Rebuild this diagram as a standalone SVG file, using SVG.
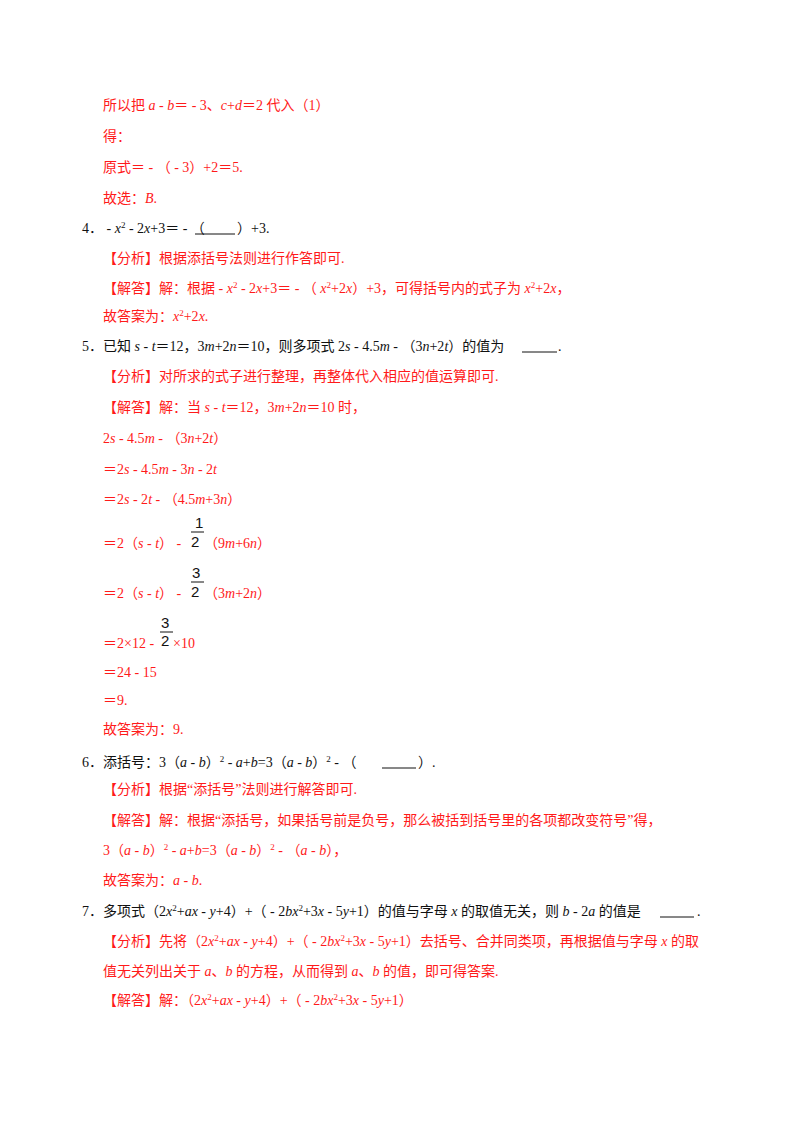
<svg xmlns="http://www.w3.org/2000/svg" width="800" height="1132" viewBox="0 0 800 1132">
<style>
text{font-family:"Liberation Serif","Noto Sans CJK SC",serif;font-size:14px}
.r{fill:#ff1a1a}.k{fill:#111}
.i{font-style:italic}
.s{font-size:9px;baseline-shift:super}
.f{font-family:"Liberation Sans","Noto Sans CJK SC",sans-serif;font-size:15px;fill:#111}
line{stroke:#111;stroke-width:1}
</style>
<rect width="800" height="1132" fill="#fff"/>
<text class="r" x="103" y="110">所以把 <tspan class="i">a</tspan> - <tspan class="i">b</tspan>＝ - 3、<tspan class="i">c</tspan>+<tspan class="i">d</tspan>＝2 代入（1）</text>
<text class="r" x="103" y="141">得：</text>
<text class="r" x="103" y="172">原式＝ - （ - 3）+2＝5.</text>
<text class="r" x="103" y="203">故选：<tspan class="i">B</tspan>.</text>
<text class="k" x="82" y="233">4． - <tspan class="i">x</tspan><tspan class="s">2</tspan> - 2<tspan class="i">x</tspan>+3＝ - （ </text>
<line x1="195" y1="234" x2="235" y2="234"/>
<text class="k" x="237" y="233">）+3.</text>
<text class="r" x="103" y="263">【分析】根据添括号法则进行作答即可.</text>
<text class="r" x="103" y="293">【解答】解：根据 - <tspan class="i">x</tspan><tspan class="s">2</tspan> - 2<tspan class="i">x</tspan>+3＝ - （ <tspan class="i">x</tspan><tspan class="s">2</tspan>+2<tspan class="i">x</tspan>）+3，可得括号内的式子为 <tspan class="i">x</tspan><tspan class="s">2</tspan>+2<tspan class="i">x</tspan>，</text>
<text class="r" x="103" y="321">故答案为：<tspan class="i">x</tspan><tspan class="s">2</tspan>+2<tspan class="i">x</tspan>.</text>
<text class="k" x="82" y="351">5．已知 <tspan class="i">s</tspan> - <tspan class="i">t</tspan>＝12，3<tspan class="i">m</tspan>+2<tspan class="i">n</tspan>＝10，则多项式 2<tspan class="i">s</tspan> - 4.5<tspan class="i">m</tspan> - （3<tspan class="i">n</tspan>+2<tspan class="i">t</tspan>）的值为 </text>
<line x1="522" y1="352" x2="557" y2="352"/>
<text class="k" x="558" y="351">.</text>
<text class="r" x="103" y="381">【分析】对所求的式子进行整理，再整体代入相应的值运算即可.</text>
<text class="r" x="103" y="412">【解答】解：当 <tspan class="i">s</tspan> - <tspan class="i">t</tspan>＝12，3<tspan class="i">m</tspan>+2<tspan class="i">n</tspan>＝10 时，</text>
<text class="r" x="103" y="443">2<tspan class="i">s</tspan> - 4.5<tspan class="i">m</tspan> - （3<tspan class="i">n</tspan>+2<tspan class="i">t</tspan>）</text>
<text class="r" x="103" y="474">＝2<tspan class="i">s</tspan> - 4.5<tspan class="i">m</tspan> - 3<tspan class="i">n</tspan> - 2<tspan class="i">t</tspan></text>
<text class="r" x="103" y="504">＝2<tspan class="i">s</tspan> - 2<tspan class="i">t</tspan> - （4.5<tspan class="i">m</tspan>+3<tspan class="i">n</tspan>）</text>
<text class="r" x="103" y="548">＝2（<tspan class="i">s</tspan> - <tspan class="i">t</tspan>） - </text>
<text class="f" x="195" y="528">1</text><line x1="191" y1="532" x2="204" y2="532"/><text class="f" x="191" y="547">2</text>
<text class="r" x="204" y="548">（9<tspan class="i">m</tspan>+6<tspan class="i">n</tspan>）</text>
<text class="r" x="103" y="598">＝2（<tspan class="i">s</tspan> - <tspan class="i">t</tspan>） - </text>
<text class="f" x="192" y="578">3</text><line x1="191" y1="582" x2="204" y2="582"/><text class="f" x="191" y="597">2</text>
<text class="r" x="204" y="598">（3<tspan class="i">m</tspan>+2<tspan class="i">n</tspan>）</text>
<text class="r" x="103" y="648">＝2×12 - </text>
<text class="f" x="161" y="628">3</text><line x1="160" y1="632" x2="173" y2="632"/><text class="f" x="161" y="646">2</text>
<text class="r" x="173" y="648">×10</text>
<text class="r" x="103" y="677">＝24 - 15</text>
<text class="r" x="103" y="705">＝9.</text>
<text class="r" x="103" y="734">故答案为：9.</text>
<text class="k" x="82" y="767">6．添括号：3（<tspan class="i">a</tspan> - <tspan class="i">b</tspan>）<tspan class="s">2</tspan> - <tspan class="i">a</tspan>+<tspan class="i">b</tspan>=3（<tspan class="i">a</tspan> - <tspan class="i">b</tspan>）<tspan class="s">2</tspan> - （ </text>
<line x1="382" y1="768" x2="416" y2="768"/>
<text class="k" x="418" y="767">）.</text>
<text class="r" x="103" y="794">【分析】根据“添括号”法则进行解答即可.</text>
<text class="r" x="103" y="825">【解答】解：根据“添括号，如果括号前是负号，那么被括到括号里的各项都改变符号”得，</text>
<text class="r" x="103" y="855">3（<tspan class="i">a</tspan> - <tspan class="i">b</tspan>）<tspan class="s">2</tspan> - <tspan class="i">a</tspan>+<tspan class="i">b</tspan>=3（<tspan class="i">a</tspan> - <tspan class="i">b</tspan>）<tspan class="s">2</tspan> - （<tspan class="i">a</tspan> - <tspan class="i">b</tspan>），</text>
<text class="r" x="103" y="885">故答案为：<tspan class="i">a</tspan> - <tspan class="i">b</tspan>.</text>
<text class="k" x="82" y="916">7．多项式（2<tspan class="i">x</tspan><tspan class="s">2</tspan>+<tspan class="i">ax</tspan> - <tspan class="i">y</tspan>+4）+（ - 2<tspan class="i">bx</tspan><tspan class="s">2</tspan>+3<tspan class="i">x</tspan> - 5<tspan class="i">y</tspan>+1）的值与字母 <tspan class="i">x</tspan> 的取值无关，则 <tspan class="i">b</tspan> - 2<tspan class="i">a</tspan> 的值是 </text>
<line x1="660" y1="917" x2="694" y2="917"/>
<text class="k" x="697" y="916">.</text>
<text class="r" x="103" y="946">【分析】先将（2<tspan class="i">x</tspan><tspan class="s">2</tspan>+<tspan class="i">ax</tspan> - <tspan class="i">y</tspan>+4）+（ - 2<tspan class="i">bx</tspan><tspan class="s">2</tspan>+3<tspan class="i">x</tspan> - 5<tspan class="i">y</tspan>+1）去括号、合并同类项，再根据值与字母 <tspan class="i">x</tspan> 的取</text>
<text class="r" x="103" y="976">值无关列出关于 <tspan class="i">a</tspan>、<tspan class="i">b</tspan> 的方程，从而得到 <tspan class="i">a</tspan>、<tspan class="i">b</tspan> 的值，即可得答案.</text>
<text class="r" x="103" y="1005">【解答】解：（2<tspan class="i">x</tspan><tspan class="s">2</tspan>+<tspan class="i">ax</tspan> - <tspan class="i">y</tspan>+4）+（ - 2<tspan class="i">bx</tspan><tspan class="s">2</tspan>+3<tspan class="i">x</tspan> - 5<tspan class="i">y</tspan>+1）</text>
</svg>
